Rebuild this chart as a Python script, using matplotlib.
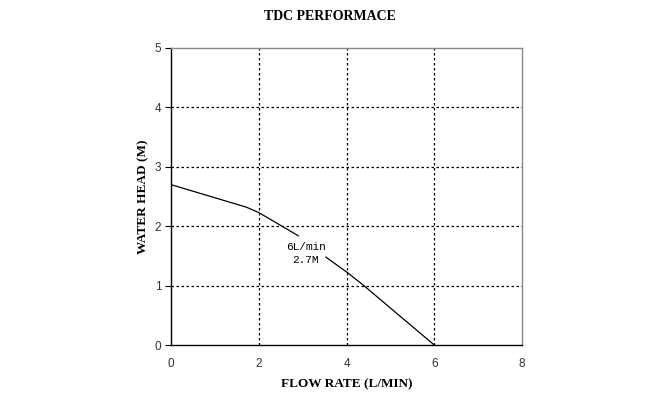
import matplotlib
matplotlib.use('Agg')
import matplotlib.pyplot as plt

# pump curve (flow L/min, head m)
flow_a = [0.0, 1.72, 2.0, 2.9]
head_a = [2.7, 2.32, 2.23, 1.84]
flow_b = [3.53, 4.02, 4.38, 6.0]
head_b = [1.48, 1.22, 1.01, 0.0]

x_ticks = [0, 2, 4, 6, 8]
y_ticks = [0, 1, 2, 3, 4, 5]

title = 'TDC PERFORMACE'
x_label = 'FLOW RATE (L/MIN)'
y_label = 'WATER HEAD (M)'
note = '6L/min\n2.7M'


def main():
    fig = plt.figure(figsize=(6.6, 3.93), dpi=100)
    ax = fig.add_axes([0.259, 0.122, 0.532, 0.756])

    ax.plot(flow_a, head_a, color='black', lw=0.9)
    ax.plot(flow_b, head_b, color='black', lw=0.9)
    ax.text(3.07, 1.54, note, ha='center', va='center',
            family='Liberation Mono', fontsize=8, linespacing=1.3)

    ax.set_xlim(0, 8)
    ax.set_ylim(0, 5)
    ax.set_xticks(x_ticks)
    ax.set_yticks(y_ticks)
    ax.tick_params(axis='x', length=0, pad=9, labelsize=8.5)
    ax.tick_params(axis='y', length=4, width=0.8, pad=3, labelsize=8.5)
    for lab in ax.get_xticklabels() + ax.get_yticklabels():
        lab.set_family('Liberation Sans')
        lab.set_color('#333333')

    for x in x_ticks[1:-1]:
        ax.axvline(x, color='black', lw=0.9, ls=(0, (2, 2)))
    for y in y_ticks[1:-1]:
        ax.axhline(y, color='black', lw=0.9, ls=(0, (2, 2)))

    ax.spines['left'].set_color('black')
    ax.spines['bottom'].set_color('black')
    ax.spines['top'].set_color('#888888')
    ax.spines['right'].set_color('#888888')
    for s in ax.spines.values():
        s.set_linewidth(1.0)

    ax.set_xlabel(x_label, family='Liberation Serif', fontweight='bold',
                  fontsize=9.5, labelpad=6)
    ax.set_ylabel(y_label, family='Liberation Serif', fontweight='bold',
                  fontsize=9.5, labelpad=4)
    fig.text(0.5, 0.958, title, ha='center', va='center',
             family='Liberation Serif', fontweight='bold', fontsize=10)

    fig.savefig('out.png', dpi=100)


if __name__ == '__main__':
    main()
